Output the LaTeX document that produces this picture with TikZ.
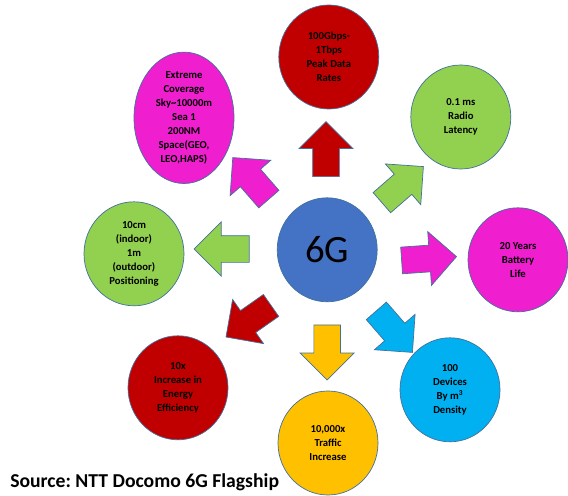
\documentclass[tikz,border=0pt]{standalone}
\usepackage{fontspec}
\setmainfont{Carlito}
\frenchspacing
\usetikzlibrary{shapes.geometric,shapes.arrows}
\definecolor{dred}{HTML}{C00000}
\definecolor{lgreen}{HTML}{92D050}
\definecolor{pink}{HTML}{EF1ECF}
\definecolor{mblue}{HTML}{4472C4}
\definecolor{sky}{HTML}{00B0F0}
\definecolor{gold}{HTML}{FFC000}
\definecolor{rim}{HTML}{41719C}
\begin{document}
\begin{tikzpicture}[
        blob/.style={ellipse, draw=rim, line width=0.5pt, minimum width=2.5cm, minimum height=2.6cm,
                inner sep=0pt, align=center, font=\fontsize{7.6}{10}\selectfont\bfseries},
        blk/.style={single arrow, draw=rim, line width=0.5pt, inner xsep=0pt, inner ysep=0.325cm,
                minimum height=1.375cm, single arrow head extend=0.34cm}]
        \useasboundingbox (0,0) rectangle (14.2,12.375);
        \node[blob, fill=mblue, font=\fontsize{27.5}{30}\selectfont] (g) at (8.18, 6.13) {6G};
        \node[blob, fill=dred] (c1) at (8.22, 10.95) {100Gbps-\\1Tbps\\Peak Data\\Rates};
        \node[blob, fill=pink] (c2) at (4.60, 9.43) {Extreme\\Coverage\\Sky\textasciitilde10000m\\Sea 1\\200NM\\Space(GEO,\\LEO,HAPS)};
        \node[blob, fill=lgreen] (c3) at (11.52, 9.45) {0.1 ms\\Radio\\Latency};
        \node[blob, fill=lgreen] (c4) at (3.35, 6.03) {10cm\\(indoor)\\1m\\(outdoor)\\Positioning};
        \node[blob, fill=pink] (c5) at (12.95, 5.88) {20 Years\\Battery\\Life};
        \node[blob, fill=dred] (c6) at (4.45, 2.68) {10x\\Increase in\\Energy\\Efficiency};
        \node[blob, fill=gold] (c7) at (8.20, 1.30) {10,000x\\Traffic\\Increase};
        \node[blob, fill=sky] (c8) at (11.25, 2.63) {100\\Devices\\By m\textsuperscript{3}\\Density};
        \node[blk, fill=dred, rotate=90] (a1) at (8.15, 8.48) {};
        \node[blk, fill=lgreen, rotate=41] (a2) at (9.94, 7.65) {};
        \node[blk, fill=pink, rotate=4] (a3) at (10.56, 5.90) {};
        \node[blk, fill=sky, rotate=-49] (a4) at (9.75, 4.21) {};
        \node[blk, fill=gold, rotate=-90] (a5) at (8.18, 3.73) {};
        \node[blk, fill=dred, rotate=215] (a6) at (6.35, 4.44) {};
        \node[blk, fill=lgreen, rotate=180] (a7) at (5.71, 6.15) {};
        \node[blk, fill=pink, rotate=131] (a8) at (6.38, 7.79) {};
        \node[anchor=base west, inner sep=0pt, font=\fontsize{14}{16}\selectfont\bfseries] (src) at (0.25, 0.2) {Source: NTT Docomo 6G Flagship};
        \end{tikzpicture}
\end{document}
